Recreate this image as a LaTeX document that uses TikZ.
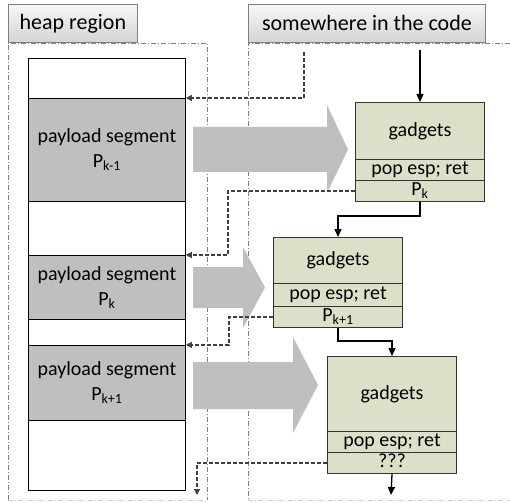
\documentclass[tikz,border=0pt]{standalone}
\usepackage{fontspec}
\setmainfont{Carlito}
\usetikzlibrary{arrows.meta}
\definecolor{segGray}{RGB}{191,191,191}
\definecolor{gadgetGreen}{RGB}{221,224,200}
\definecolor{borderGray}{RGB}{127,127,127}
\definecolor{dashGray}{RGB}{64,64,64}
\tikzset{
  region/.style={draw=borderGray, line width=0.8pt, dash pattern=on 5pt off 2pt on 1pt off 2pt},
  hdr/.style={draw=borderGray, line width=0.8pt, top color=black!3, bottom color=black!17,
    anchor=north west, inner sep=0pt, font=\fontsize{22}{26}\selectfont},
  emptyseg/.style={draw=black, line width=0.8pt, fill=white, anchor=north west,
    inner sep=0pt, minimum width=157pt},
  payload/.style={emptyseg, fill=segGray, align=center, font=\fontsize{20}{25}\selectfont},
  gadget/.style={draw=black!80, line width=1pt, fill=gadgetGreen, anchor=north west,
    inner sep=0pt, minimum width=129pt, font=\fontsize{20}{24}\selectfont},
  row/.style={gadget, minimum height=21pt, text height=14pt, text depth=5pt},
  flow/.style={draw=black, line width=1.3pt, -{Triangle[length=8pt,width=7pt]}},
  back/.style={draw=dashGray, line width=1.1pt, dash pattern=on 4pt off 2pt,
    -{Triangle[length=6pt,width=6pt]}},
  bigarrow/.style={fill=segGray}
}
\begin{document}
\begin{tikzpicture}[x=1pt,y=-1pt]     % heap payload segments and gadget chain
  \useasboundingbox (0,0) rectangle (510,502);
  % regions
  \draw[region] (8,500) -- (8,43) -- (207,43) -- (207,500);
  \draw[region] (510,43) -- (248,43) -- (248,500);
  \draw[region, draw=black!20] (8,500) -- (207,500) (248,500) -- (510,500);
  % big grey arrows
  \fill[bigarrow] (193,127) -- (327,127) -- (327,105) -- (348,149.5) -- (327,193) -- (327,172) -- (193,172) -- cycle;
  \fill[bigarrow] (193,267) -- (243,267) -- (243,247) -- (265,287.5) -- (243,328) -- (243,308) -- (193,308) -- cycle;
  \fill[bigarrow] (193,362) -- (293,362) -- (293,337) -- (318,385) -- (293,433) -- (293,409) -- (193,409) -- cycle;
  % headers
  \node (heap) [hdr, minimum width=129pt, minimum height=38pt] at (8,4) {heap region};
  \node (code) [hdr, minimum width=237pt, minimum height=38pt] at (248,4) {somewhere in the code};
  % heap segments
  \node (h0) [emptyseg, minimum height=40pt] at (28,58) {};
  \node (p1) [payload, minimum height=103pt] at (28,98) {payload segment\\P\textsubscript{k-1}};
  \node (h1) [emptyseg, minimum height=54pt] at (28,201) {};
  \node (p2) [payload, minimum height=64pt] at (28,255) {payload segment\\P\textsubscript{k}};
  \node (h2) [emptyseg, minimum height=26pt] at (28,319) {};
  \node (p3) [payload, minimum height=75pt] at (28,345) {payload segment\\P\textsubscript{k+1}};
  \node (h3) [emptyseg, minimum height=70pt] at (28,420) {};
  % gadget boxes
  \node (g1) [gadget, minimum height=57pt] at (355,102) {gadgets};
  \node (r1) [row] at (355,159) {pop esp; ret};
  \node (q1) [row] at (355,180) {P\textsubscript{k}};
  \node (g2) [gadget, minimum height=46pt] at (273,237) {gadgets};
  \node (r2) [row, minimum height=23pt] at (273,283) {pop esp; ret};
  \node (q2) [row] at (273,306) {P\textsubscript{k+1}};
  \node (g3) [gadget, minimum height=75pt] at (327,356) {gadgets};
  \node (r3) [row] at (327,431) {pop esp; ret};
  \node (q3) [row] at (327,452) {???};
  % control flow
  \coordinate (entry) at (420,50);
  \coordinate (exit) at (391,495);
  \draw[flow] (entry) -- (g1.north);
  \draw[flow] (q1.south) -- ++(0,14) -| (g2.north);
  \draw[flow] (q2.south) -- ++(0,13) -| (g3.north);
  \draw[flow] (q3.south) -- (exit);
  % stack pivots into the heap
  \coordinate (start) at (304,52);
  \coordinate (lost) at (197,495);
  \draw[back] (start) |- (p1.north east);
  \draw[back] (q1.west) -- ++(-127,0) |- (p2.north east);
  \draw[back] (q2.west) -- ++(-44,0) |- (p3.north east);
  \draw[back] (q3.west) -| (lost);
\end{tikzpicture}
\end{document}
